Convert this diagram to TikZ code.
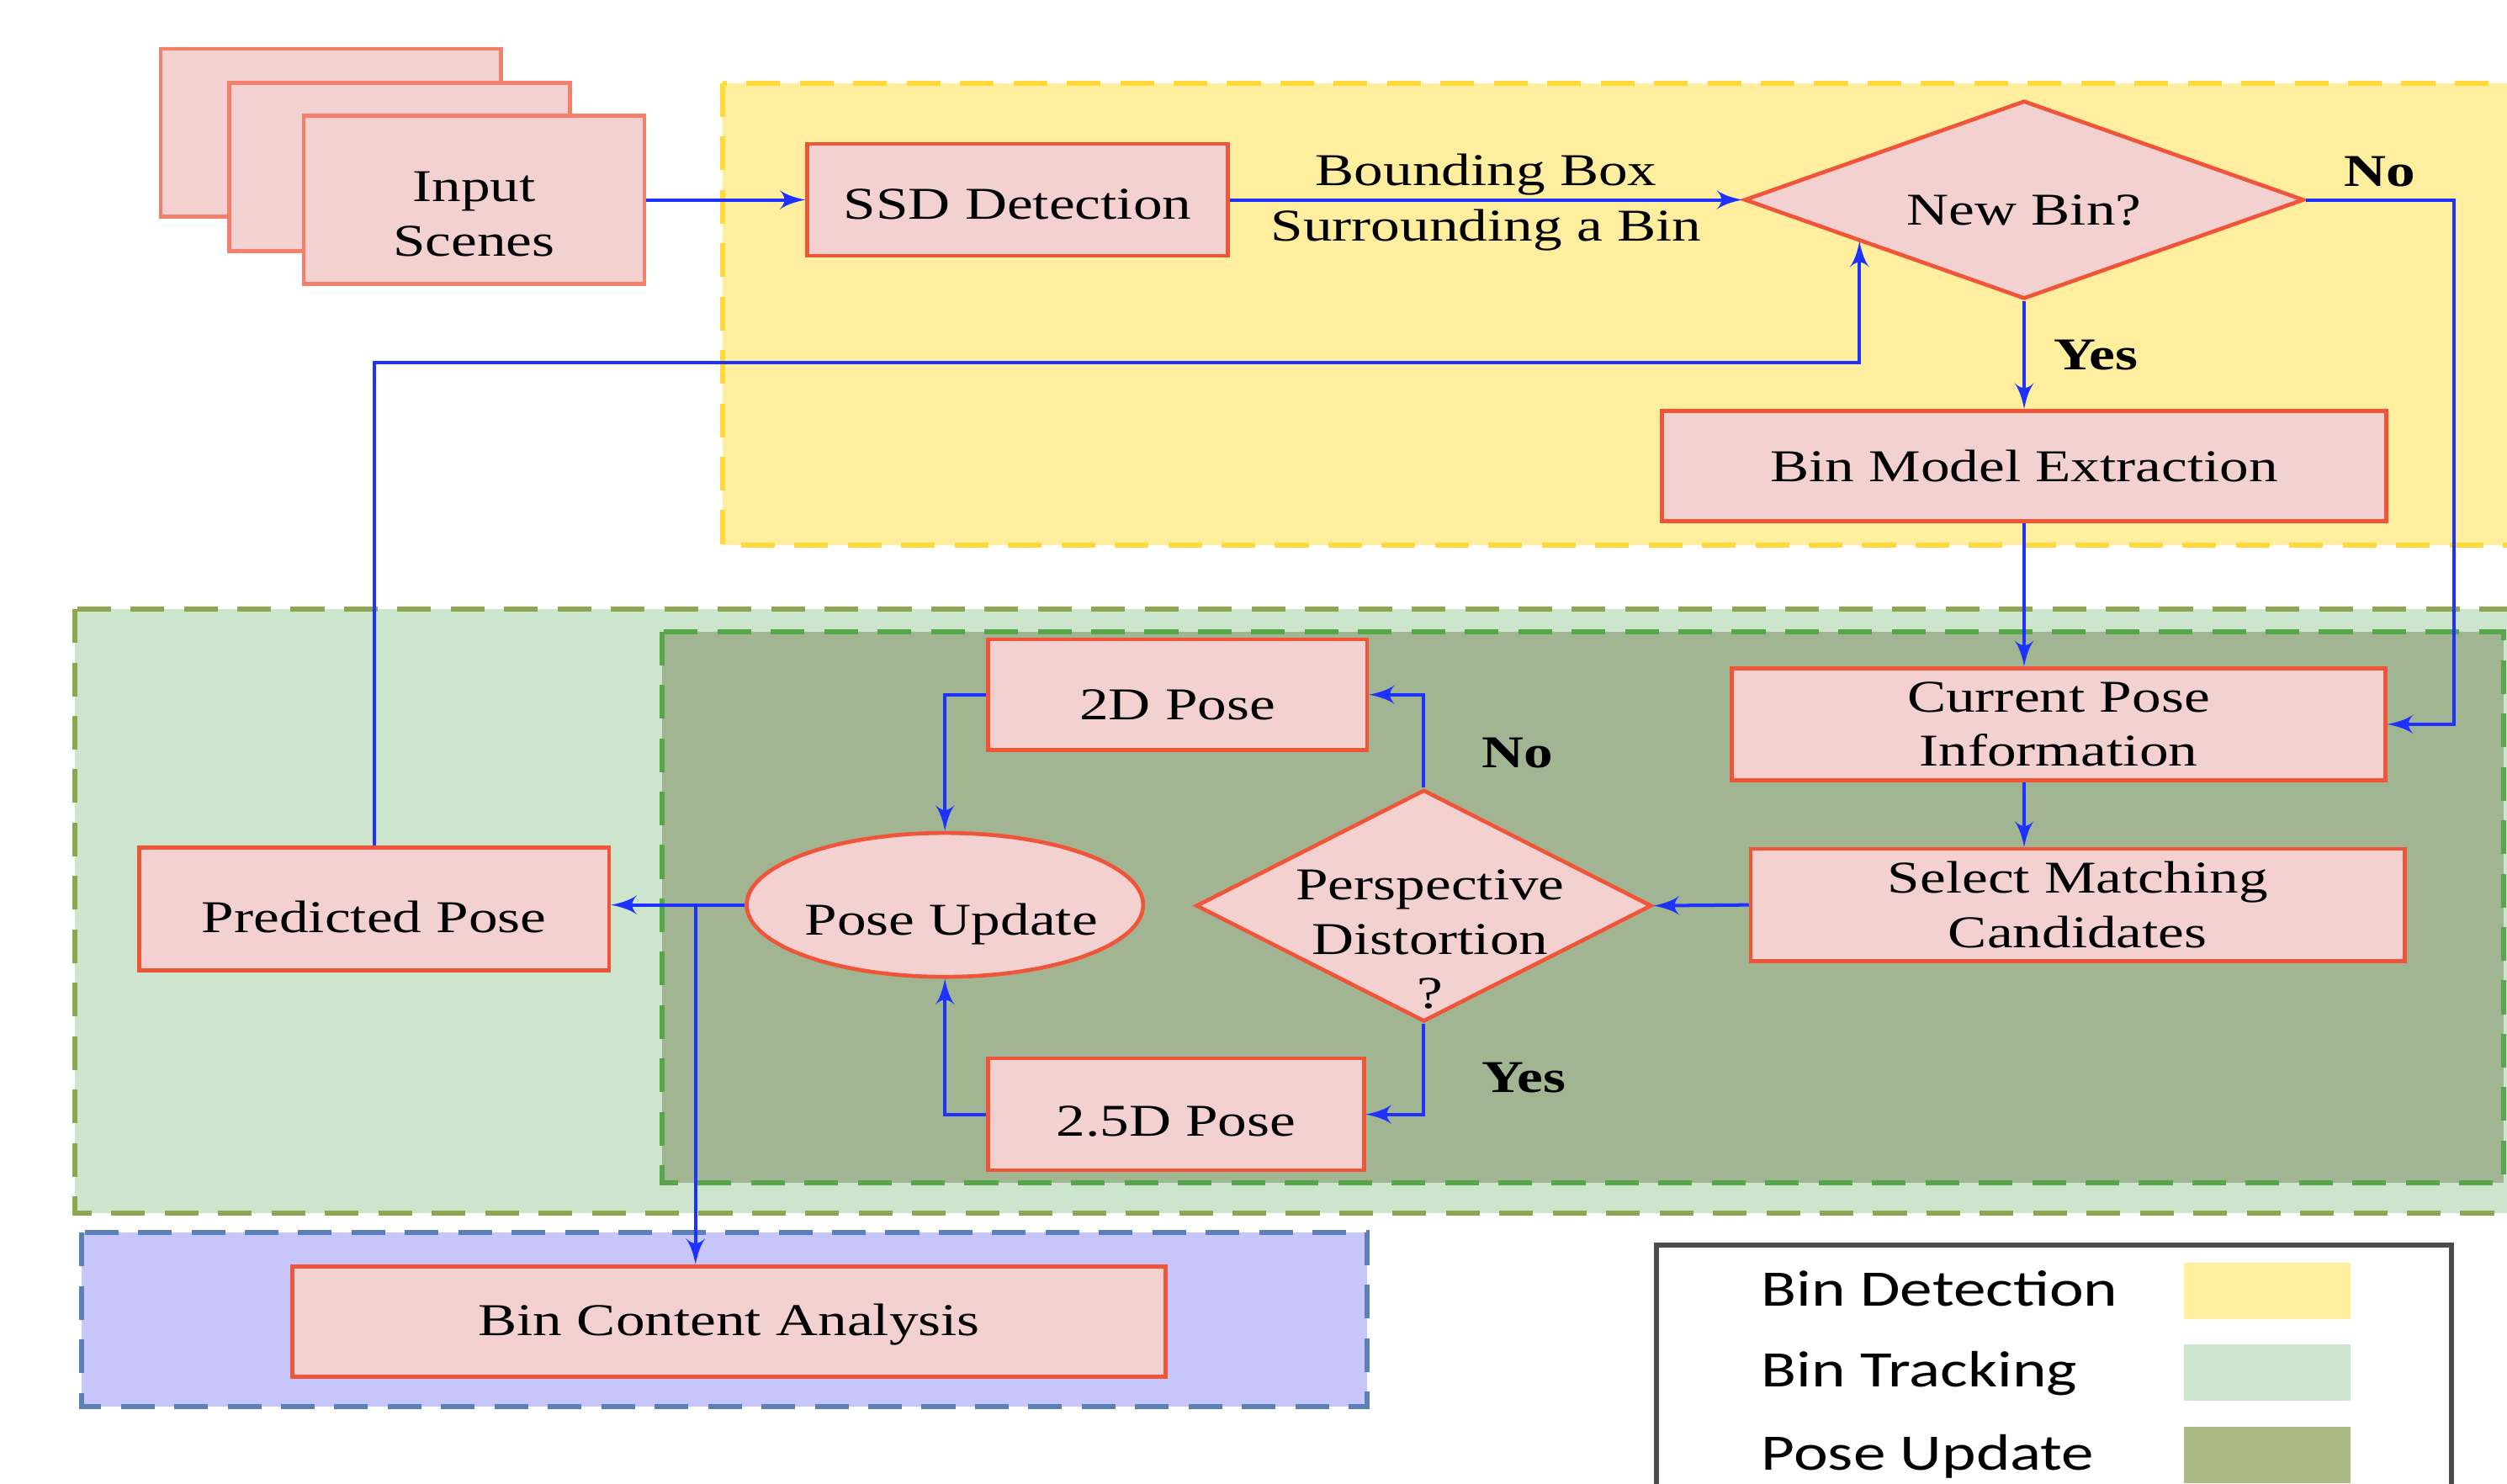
\documentclass[tikz,border=0pt]{standalone}
\usepackage{fontspec}
\setmainfont{Liberation Serif}[FakeStretch=1.28]
\newfontfamily\keyfont{Carlito}[FakeStretch=1.27]
\usetikzlibrary{arrows,shapes.geometric,calc}

\definecolor{boxfill}{HTML}{F3D1D1}
\definecolor{boxline}{HTML}{F0553A}
\definecolor{flowblue}{HTML}{1E32FF}
\definecolor{detfill}{HTML}{FEEE9E}
\definecolor{detline}{HTML}{FFD83A}
\definecolor{trackfill}{HTML}{CCE5CC}
\definecolor{trackline}{HTML}{8EA64E}
\definecolor{updfill}{HTML}{A1B593}
\definecolor{updline}{HTML}{56A64A}
\definecolor{anafill}{HTML}{C6C6FA}
\definecolor{analine}{HTML}{5C80B5}
\definecolor{keyupd}{HTML}{ABB985}

\begin{document}
\begin{tikzpicture}[>=latex',
    flow/.style={->,draw=flowblue,line width=0.6pt},
    main node/.style={rectangle,fill=boxfill,draw=boxline,line width=0.7pt,
      font=\fontsize{8.1pt}{9.7pt}\selectfont,align=center,inner sep=1pt},
    scene node/.style={main node,draw=boxline!75,minimum width=2.13cm,minimum height=1.05cm},
    test node/.style={main node,diamond,inner sep=0pt},
    merge node/.style={main node,ellipse,minimum width=2.48cm,minimum height=0.9cm},
    region/.style={dash pattern=on 6pt off 3.5pt,line width=0.9pt},
    tag/.style={font=\fontsize{8.1pt}{9.7pt}\selectfont,inner sep=2pt},
    bold tag/.style={tag,font=\fontsize{8.1pt}{9.7pt}\selectfont\bfseries},
    key node/.style={font=\keyfont\fontsize{9.1pt}{11pt}\selectfont,anchor=west,inner sep=0pt},
    swatch/.style={rectangle,minimum width=1.04cm,minimum height=0.35cm,inner sep=0pt}]

  \path[use as bounding box,clip] (0,0) rectangle (15.68,9.28);

  % stage backgrounds
  \path[region,fill=detfill,draw=detline] (4.52,8.76) rectangle (16.0,5.87);
  \path[region,fill=trackfill,draw=trackline] (0.47,5.47) rectangle (16.0,1.69);
  \path[region,fill=updfill,draw=updline] (4.14,5.33) rectangle (15.66,1.88);
  \path[region,fill=anafill,draw=analine] (0.51,1.57) rectangle (8.55,0.48);

  % detection
  \node[scene node] (sceneC) at (2.07,8.45) {};
  \node[scene node] (sceneB) at (2.50,8.235) {};
  \node[scene node,label={[tag,align=center,yshift=-0.09cm]center:Input\\Scenes}] (scene)
    at (2.965,8.03) {};
  \node[main node,minimum width=2.63cm,minimum height=0.7cm,text height=0.24cm] (ssd)
    [node distance=3.4cm, right of=scene] {SSD Detection};
  \node[test node,aspect=2.8,minimum width=3.5cm,minimum height=1.24cm,text height=0.32cm] (newbin)
    [node distance=6.295cm, right of=ssd] {New Bin?};
  \node[main node,minimum width=4.53cm,minimum height=0.69cm,text height=0.2cm] (binmodel)
    [node distance=1.665cm, below of=newbin] {Bin Model Extraction};

  % tracking
  \node[main node,minimum width=4.09cm,minimum height=0.7cm] (curpose)
    at (12.875,4.75) {Current Pose\\Information};
  \node[main node,minimum width=4.09cm,minimum height=0.7cm] (select)
    at (12.995,3.62) {Select Matching\\Candidates};
  \node[test node,minimum width=2.85cm,minimum height=1.45cm,
    label={[tag,align=center,yshift=-0.21cm,xshift=0.04cm]center:Perspective\\Distortion\\?}] (persp)
    at (8.905,3.615) {};
  \node[main node,minimum width=2.37cm,minimum height=0.69cm,text height=0.32cm] (pose2d)
    at (7.365,4.935) {2D Pose};
  \node[main node,minimum width=2.35cm,minimum height=0.7cm,text height=0.28cm] (pose25d)
    at (7.355,2.31) {2.5D Pose};
  \node[merge node,label={[tag,yshift=-0.12cm,xshift=0.04cm]center:Pose Update}] (poseupd)
    at (5.91,3.62) {};
  \node[main node,minimum width=2.94cm,minimum height=0.77cm,text height=0.3cm] (predicted)
    at (2.34,3.595) {Predicted Pose};
  \node[main node,minimum width=5.46cm,minimum height=0.69cm,text height=0.24cm] (content)
    at (4.56,1.015) {Bin Content Analysis};

  \coordinate (noturn) at (15.35,8.03);
  \coordinate (split) at (4.35,3.62);
  \coordinate (fbin) at ($(newbin.west)!0.41!(newbin.south)$);
  \coordinate (fbturn) at (11.63,7.01);

  \draw[flow] (scene) -- (ssd);
  \draw[flow] (ssd) -- node[tag,above=-1.5pt] {Bounding Box}
    node[tag,below=-0.6pt] {Surrounding a Bin} (newbin);
  \draw[flow] (newbin.east) -- node[bold tag,above] {No} (noturn) |- (curpose.east);
  \draw[flow] (newbin) -- node[bold tag,right=3pt] {Yes} (binmodel);
  \draw[flow] (binmodel.south) -- (binmodel.south |- curpose.north);
  \draw[flow] (binmodel.south |- curpose.south) -- (binmodel.south |- select.north);
  \draw[flow] (select.west) -- (persp.east);
  \draw[flow] (persp.north) |- node[bold tag,pos=0.185,right=8pt] {No} (pose2d.east);
  \draw[flow] (persp.south) |- node[bold tag,pos=0.3,right=8pt] {Yes} (pose25d.east);
  \draw[flow] (pose2d.west) -| (poseupd.north);
  \draw[flow] (pose25d.west) -| (poseupd.south);
  \draw[flow] (poseupd.west) -- (poseupd.west -| predicted.east);
  \draw[flow] (split) -- (split |- content.north);
  \draw[flow] (predicted.north) |- (fbturn) -- (fbturn |- fbin);

  % legend
  \draw[draw=black!70,line width=0.9pt,fill=white] (10.36,1.49) rectangle (15.33,-0.3);
  \node[key node] (keydet) at (11.01,1.22) {Bin Detection};
  \node[key node] (keytrack) at (11.01,0.69) {Bin Tracking};
  \node[key node] (keyupd) at (11.01,0.17) {Pose Update};
  \node[swatch,fill=detfill] (swdet) at (14.18,1.205) {};
  \node[swatch,fill=trackfill] (swtrack) at (14.18,0.695) {};
  \node[swatch,fill=keyupd] (swupd) at (14.18,0.18) {};
\end{tikzpicture}
\end{document}
